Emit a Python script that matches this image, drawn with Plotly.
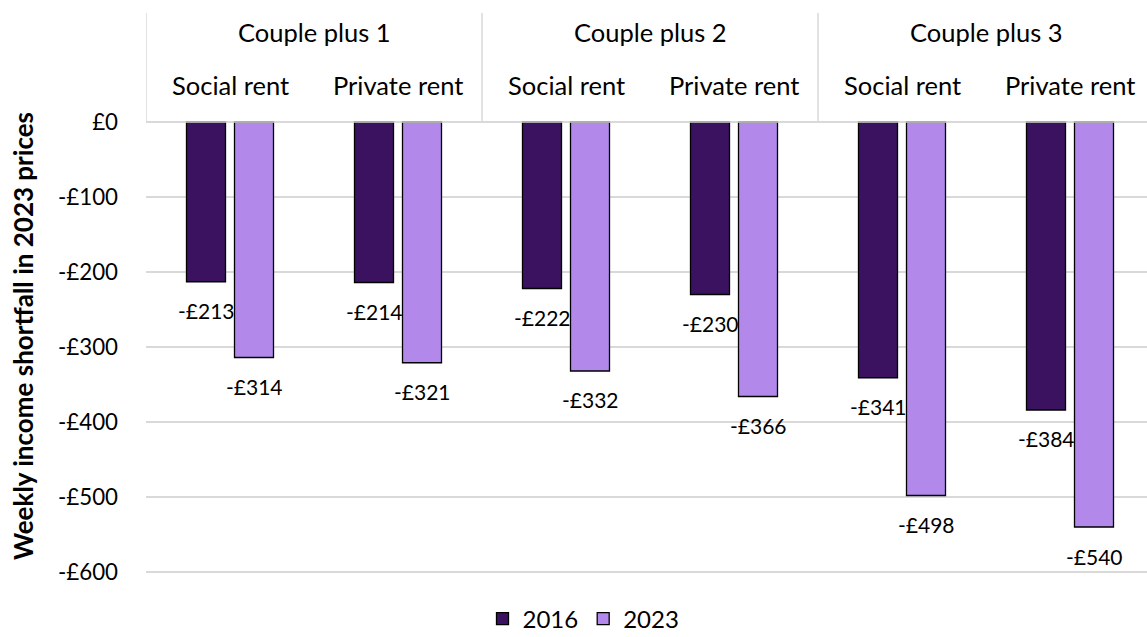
import plotly.graph_objects as go

# Household types and housing tenure
groups = ["Couple plus 1", "Couple plus 2", "Couple plus 3"]
tenures = ["Social rent", "Private rent"]

# Weekly income shortfall (£, 2023 prices)
series_names = ["2016", "2023"]
shortfall_2016 = [-213, -214, -222, -230, -341, -384]
shortfall_2023 = [-314, -321, -332, -366, -498, -540]

y_ticks = [0, -100, -200, -300, -400, -500, -600]
y_tick_labels = ["£0" if v == 0 else f"-£{abs(v)}" for v in y_ticks]

colors = ["#3A1260", "#B388EB"]
FONT = "Lato"
TEXT = "#000000"
GRID = "#D9D9D9"

HEAD_SIZE = 25.5
TICK_SIZE = 22.3
LABEL_SIZE = 21
LEGEND_SIZE = 24
TITLE_SIZE = 26

cats = [f"{g}|{t}" for g in groups for t in tenures]

fig = go.Figure()
for name, vals, col in zip(series_names, [shortfall_2016, shortfall_2023], colors):
    fig.add_trace(go.Bar(
        x=cats, y=vals, name=name,
        marker=dict(color=col, line=dict(color="#000000", width=1.3)),
    ))

# value labels below each bar end
annotations = []
for k, vals in enumerate([shortfall_2016, shortfall_2023]):
    shift = -24 if k == 0 else 24
    for c, v in zip(cats, vals):
        annotations.append(dict(
            x=c, y=v, xref="x", yref="y", xshift=shift, yshift=-29,
            text=f"-£{abs(v)}", showarrow=False,
            font=dict(family=FONT, size=LABEL_SIZE, color=TEXT),
        ))

# category headers above the zero line
for c in cats:
    annotations.append(dict(
        x=c, y=0, xref="x", yref="y", yshift=37,
        text=c.split("|")[1], showarrow=False,
        font=dict(family=FONT, size=HEAD_SIZE, color=TEXT),
    ))
for gi, g in enumerate(groups):
    annotations.append(dict(
        x=gi * 2 + 0.5, y=0, xref="x", yref="y", yshift=90,
        text=g, showarrow=False,
        font=dict(family=FONT, size=HEAD_SIZE, color=TEXT),
    ))

W, H = 1147, 637
ML, MR, MT, MB = 146, 0, 13, 47
pw, ph = W - ML - MR, H - MT - MB

# value axis title, placed by pixel position within the figure
annotations.append(dict(
    x=(23 - ML) / pw, y=(H - MB - 336) / ph, xref="paper", yref="paper",
    xanchor="center", yanchor="middle", showarrow=False,
    text="<b>Weekly income shortfall in 2023 prices</b>", textangle=-90,
    font=dict(family=FONT, size=TITLE_SIZE, color=TEXT),
))

shapes = []
ytop = 145.3
for xb in [-0.5, 1.5, 3.5, 5.5]:
    shapes.append(dict(type="line", xref="x", yref="y", x0=xb, x1=xb, y0=0, y1=ytop,
                       line=dict(color=GRID, width=1.5)))
shapes.append(dict(type="line", xref="paper", yref="y", x0=0, x1=1, y0=0, y1=0,
                   line=dict(color=GRID, width=1.5)))

fig.update_layout(
    width=W, height=H,
    margin=dict(l=ML, r=MR, t=MT, b=MB, autoexpand=False),
    paper_bgcolor="white", plot_bgcolor="white",
    barmode="group", bargap=0.4286, bargroupgap=0.1875,
    font=dict(family=FONT, size=TICK_SIZE, color=TEXT),
    annotations=annotations, shapes=shapes,
    showlegend=True,
    legend=dict(orientation="h", xref="container", yref="paper",
                x=0.5 + 10 / W, xanchor="center",
                y=(H - MB - 619) / ph, yanchor="middle",
                font=dict(family=FONT, size=LEGEND_SIZE, color=TEXT),
                itemwidth=30, traceorder="normal"),
)
fig.update_xaxes(showticklabels=False, showgrid=False, zeroline=False,
                 range=[-0.5, -0.5 + pw / 168], fixedrange=True)
fig.update_yaxes(range=[-624, ytop], tickvals=y_ticks, ticktext=y_tick_labels,
                 showgrid=True, gridcolor=GRID, gridwidth=1.5, zeroline=False,
                 ticklabelstandoff=27,
                 tickfont=dict(family=FONT, size=TICK_SIZE, color=TEXT))

fig.write_html("out.html")
